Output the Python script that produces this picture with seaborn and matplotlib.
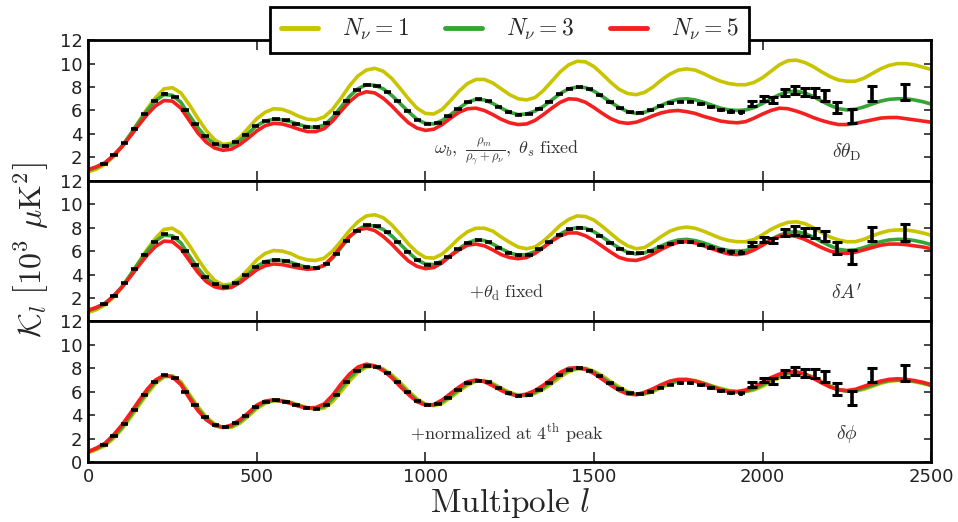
"""
CMB spectra K_l for N_nu = 1, 3, 5 with binned data, three stacked panels
"""

import numpy as np
import matplotlib
matplotlib.use('Agg')
import matplotlib.pyplot as plt
import seaborn as sns

# multipoles of the model curves
ell = np.arange(0, 2501, 25)

# N_nu = 3 (fiducial), same in all panels
cl_nu3 = [
    0.9, 1.15, 1.5, 2.15, 2.95, 3.95, 5.0, 6.0, 6.85, 7.35,
    7.3, 6.7, 5.6, 4.55, 3.7, 3.15, 2.95, 3.05, 3.45, 4.05,
    4.7, 5.1, 5.25, 5.2, 5.05, 4.8, 4.6, 4.55, 4.75, 5.4,
    6.3, 7.2, 7.85, 8.2, 8.15, 7.85, 7.3, 6.6, 5.9, 5.25,
    4.9, 4.85, 5.15, 5.65, 6.2, 6.7, 6.95, 6.9, 6.6, 6.2,
    5.85, 5.65, 5.7, 5.95, 6.35, 6.9, 7.45, 7.85, 8.0, 7.95,
    7.65, 7.2, 6.7, 6.25, 5.9, 5.75, 5.85, 6.1, 6.45, 6.75,
    6.95, 7.0, 6.9, 6.7, 6.45, 6.2, 6.05, 6.0, 6.05, 6.25,
    6.6, 7.0, 7.35, 7.6, 7.65, 7.5, 7.2, 6.8, 6.45, 6.15,
    6.05, 6.1, 6.3, 6.55, 6.8, 6.95, 7.0, 7.0, 6.9, 6.75,
    6.55,
]

# панель 1: omega_b, rho_m/(rho_g+rho_nu), theta_s fixed
top_nu1 = [
    0.75, 1.0, 1.4, 2.05, 2.9, 3.95, 5.05, 6.15, 7.1, 7.85,
    7.95, 7.5, 6.5, 5.35, 4.3, 3.5, 3.1, 3.2, 3.7, 4.5,
    5.3, 5.85, 6.15, 6.1, 5.85, 5.5, 5.25, 5.2, 5.45, 6.1,
    7.05, 8.1, 8.95, 9.45, 9.6, 9.35, 8.75, 7.9, 7.0, 6.2,
    5.75, 5.7, 6.1, 6.85, 7.65, 8.3, 8.65, 8.65, 8.35, 7.85,
    7.35, 7.0, 6.9, 7.1, 7.7, 8.5, 9.3, 9.9, 10.2, 10.15,
    9.75, 9.1, 8.4, 7.8, 7.45, 7.35, 7.55, 8.0, 8.6, 9.1,
    9.45, 9.55, 9.45, 9.15, 8.8, 8.5, 8.3, 8.2, 8.2, 8.4,
    8.8, 9.35, 9.9, 10.25, 10.3, 10.1, 9.75, 9.3, 8.9, 8.6,
    8.5, 8.5, 8.75, 9.15, 9.55, 9.85, 10.0, 10.0, 9.9, 9.7,
    9.5,
]
top_nu5 = [
    0.95, 1.2, 1.55, 2.15, 2.9, 3.8, 4.75, 5.65, 6.4, 6.85,
    6.8, 6.2, 5.15, 4.1, 3.3, 2.8, 2.6, 2.7, 3.1, 3.65,
    4.25, 4.7, 4.9, 4.85, 4.65, 4.4, 4.2, 4.2, 4.45, 5.1,
    5.95, 6.75, 7.35, 7.6, 7.5, 7.05, 6.4, 5.65, 4.95, 4.5,
    4.3, 4.4, 4.8, 5.35, 5.85, 6.15, 6.2, 6.0, 5.65, 5.25,
    4.95, 4.8, 4.85, 5.15, 5.65, 6.2, 6.7, 7.0, 6.95, 6.7,
    6.25, 5.75, 5.3, 5.0, 4.9, 5.0, 5.25, 5.55, 5.8, 5.95,
    6.0, 5.9, 5.75, 5.5, 5.3, 5.1, 5.0, 4.95, 5.05, 5.35,
    5.7, 6.0, 6.2, 6.15, 5.95, 5.7, 5.4, 5.15, 4.95, 4.8,
    4.8, 4.9, 5.05, 5.2, 5.35, 5.4, 5.4, 5.3, 5.2, 5.1,
    5.0,
]

# панель 2: + theta_d fixed
mid_nu1 = [
    0.75, 1.0, 1.4, 2.05, 2.9, 3.95, 5.05, 6.15, 7.1, 7.85,
    7.95, 7.5, 6.5, 5.35, 4.3, 3.5, 3.1, 3.2, 3.7, 4.45,
    5.25, 5.8, 6.05, 6.0, 5.8, 5.45, 5.25, 5.2, 5.4, 6.0,
    6.85, 7.75, 8.5, 9.0, 9.1, 8.85, 8.25, 7.45, 6.6, 5.9,
    5.45, 5.4, 5.75, 6.4, 7.1, 7.65, 7.95, 7.95, 7.7, 7.2,
    6.75, 6.35, 6.2, 6.35, 6.85, 7.5, 8.2, 8.7, 9.0, 8.95,
    8.65, 8.1, 7.5, 6.9, 6.45, 6.2, 6.3, 6.75, 7.25, 7.7,
    7.95, 8.05, 7.95, 7.7, 7.4, 7.1, 6.9, 6.8, 6.8, 7.0,
    7.4, 7.85, 8.2, 8.45, 8.5, 8.35, 8.0, 7.6, 7.2, 6.95,
    6.8, 6.8, 7.0, 7.3, 7.55, 7.75, 7.8, 7.8, 7.7, 7.55,
    7.35,
]
mid_nu5 = [
    0.95, 1.2, 1.55, 2.15, 2.9, 3.8, 4.75, 5.65, 6.4, 6.85,
    6.8, 6.2, 5.2, 4.2, 3.4, 2.95, 2.8, 2.9, 3.3, 3.85,
    4.4, 4.75, 4.9, 4.85, 4.7, 4.55, 4.45, 4.5, 4.8, 5.5,
    6.4, 7.25, 7.8, 7.95, 7.75, 7.25, 6.6, 5.85, 5.15, 4.7,
    4.5, 4.6, 5.0, 5.6, 6.1, 6.5, 6.6, 6.45, 6.1, 5.7,
    5.45, 5.35, 5.45, 5.8, 6.3, 6.85, 7.3, 7.55, 7.55, 7.3,
    6.9, 6.4, 5.9, 5.45, 5.25, 5.2, 5.4, 5.75, 6.15, 6.5,
    6.75, 6.8, 6.7, 6.45, 6.2, 5.95, 5.75, 5.7, 5.8, 6.1,
    6.5, 6.95, 7.25, 7.35, 7.25, 7.0, 6.65, 6.3, 6.0, 5.85,
    5.8, 5.9, 6.1, 6.3, 6.5, 6.6, 6.6, 6.55, 6.45, 6.35,
    6.2,
]

# панель 3: + normalized at 4th peak
bot_nu1 = [
    0.8, 1.05, 1.4, 2.0, 2.8, 3.75, 4.8, 5.8, 6.7, 7.25,
    7.35, 6.85, 5.8, 4.75, 3.85, 3.25, 2.95, 2.95, 3.3, 3.9,
    4.55, 5.0, 5.25, 5.25, 5.1, 4.85, 4.65, 4.5, 4.6, 5.15,
    6.0, 6.9, 7.65, 8.1, 8.2, 7.95, 7.45, 6.8, 6.05, 5.4,
    4.95, 4.8, 5.0, 5.5, 6.05, 6.55, 6.9, 6.95, 6.7, 6.3,
    5.95, 5.7, 5.65, 5.85, 6.2, 6.7, 7.25, 7.7, 7.95, 8.0,
    7.75, 7.35, 6.85, 6.4, 6.0, 5.8, 5.8, 6.0, 6.35, 6.65,
    6.9, 7.0, 6.95, 6.75, 6.5, 6.3, 6.1, 6.0, 6.0, 6.15,
    6.45, 6.85, 7.2, 7.5, 7.6, 7.5, 7.25, 6.9, 6.5, 6.2,
    6.05, 6.05, 6.2, 6.45, 6.7, 6.9, 6.95, 6.95, 6.85, 6.7,
    6.5,
]
bot_nu5 = [
    0.85, 1.2, 1.6, 2.3, 3.15, 4.15, 5.2, 6.2, 7.0, 7.4,
    7.25, 6.6, 5.45, 4.4, 3.6, 3.1, 2.95, 3.15, 3.6, 4.2,
    4.85, 5.2, 5.3, 5.2, 5.0, 4.75, 4.6, 4.65, 4.95, 5.7,
    6.65, 7.5, 8.1, 8.35, 8.2, 7.8, 7.2, 6.45, 5.75, 5.15,
    4.85, 4.9, 5.3, 5.85, 6.4, 6.85, 7.0, 6.85, 6.5, 6.1,
    5.8, 5.65, 5.8, 6.1, 6.55, 7.1, 7.65, 8.0, 8.05, 7.9,
    7.55, 7.05, 6.55, 6.1, 5.8, 5.75, 5.95, 6.25, 6.6, 6.9,
    7.05, 7.05, 6.9, 6.65, 6.4, 6.15, 6.0, 6.0, 6.15, 6.4,
    6.8, 7.2, 7.5, 7.7, 7.7, 7.5, 7.15, 6.75, 6.4, 6.15,
    6.1, 6.2, 6.45, 6.7, 6.9, 7.05, 7.1, 7.05, 6.95, 6.8,
    6.6,
]

# binned data, low l (short dashes)
bin_ell_low = np.arange(47, 1938, 30)
bin_cl_low = [
    1.45, 2.2, 3.25, 4.45, 5.7, 6.8, 7.45, 7.15,
    6.0, 4.85, 3.8, 3.15, 2.95, 3.3, 3.95, 4.65,
    5.1, 5.25, 5.15, 4.85, 4.6, 4.55, 4.9, 5.75,
    6.85, 7.75, 8.2, 8.1, 7.6, 6.8, 5.95, 5.2,
    4.85, 4.95, 5.5, 6.15, 6.7, 6.95, 6.8, 6.3,
    5.85, 5.65, 5.7, 6.15, 6.75, 7.4, 7.85, 8.0,
    7.8, 7.3, 6.7, 6.2, 5.85, 5.8, 6.0, 6.35,
    6.6, 6.75, 6.75, 6.55, 6.3, 6.05, 5.9, 5.85,
]
bin_err_low = [
    0.1, 0.1, 0.1, 0.1, 0.1, 0.1, 0.1, 0.1,
    0.1, 0.1, 0.1, 0.1, 0.1, 0.1, 0.1, 0.1,
    0.1, 0.1, 0.1, 0.1, 0.1, 0.1, 0.1, 0.1,
    0.1, 0.1, 0.1, 0.1, 0.1, 0.1, 0.1, 0.1,
    0.1, 0.1, 0.1, 0.1, 0.1, 0.1, 0.1, 0.1,
    0.12, 0.12, 0.12, 0.12, 0.12, 0.12, 0.12, 0.12,
    0.12, 0.12, 0.12, 0.12, 0.12, 0.12, 0.12, 0.12,
    0.15, 0.15, 0.15, 0.18, 0.18, 0.2, 0.2, 0.2,
]

# binned data, high l (error bars with caps)
bin_ell_high = [1968, 2003, 2032, 2067, 2097, 2126, 2156, 2186, 2220, 2265, 2324, 2423]
bin_cl_high = [6.6, 7.0, 6.9, 7.55, 7.75, 7.6, 7.55, 7.3, 6.25, 5.5, 7.45, 7.6]
bin_err_high = [0.2, 0.2, 0.25, 0.3, 0.35, 0.35, 0.4, 0.45, 0.5, 0.6, 0.6, 0.7]

panels = [
    (top_nu1, top_nu5,
     r'$\omega_b,\ \frac{\rho_m}{\rho_\gamma+\rho_\nu},\ \theta_s\ \mathrm{fixed}$',
     r'$\delta\theta_{\rm D}$'),
    (mid_nu1, mid_nu5, r'$+\theta_{\rm d}\ \mathrm{fixed}$', r"$\delta A'$"),
    (bot_nu1, bot_nu5, r'$+\mathrm{normalized\ at\ 4^{th}\ peak}$', r'$\delta\phi$'),
]

col_nu1 = '#c9c400'
col_nu3 = '#36a536'
col_nu5 = '#f42020'

sns.set_style("ticks")
plt.rcParams['font.family'] = ['DejaVu Sans']
plt.rcParams['mathtext.fontset'] = 'cm'

fig, axes = plt.subplots(3, 1, figsize=(9.58, 5.22), dpi=100, sharex=True)
fig.subplots_adjust(left=0.092, right=0.972, top=0.923, bottom=0.115, hspace=0)

for i, (ax, (y1, y5, note, tag)) in enumerate(zip(axes, panels)):
    sns.lineplot(x=ell, y=y1, color=col_nu1, lw=2.6, ax=ax, label=r'$N_\nu=1$')
    sns.lineplot(x=ell, y=cl_nu3, color=col_nu3, lw=2.6, ax=ax, label=r'$N_\nu=3$')
    sns.lineplot(x=ell, y=y5, color=col_nu5, lw=2.6, ax=ax, label=r'$N_\nu=5$')

    ax.errorbar(bin_ell_low, bin_cl_low, xerr=11, yerr=bin_err_low, fmt='none',
                ecolor='black', elinewidth=2.6, capsize=0, zorder=5)
    ax.errorbar(bin_ell_high, bin_cl_high, yerr=bin_err_high, fmt='none',
                ecolor='black', elinewidth=2.6, capsize=3.5, capthick=2.2, zorder=5)

    ax.text(1240, 2.4, note, ha='center', va='center', fontsize=13, color='#333333')
    ax.text(2250, 2.4, tag, ha='center', va='center', fontsize=14, color='#333333')

    ax.set_xlim(0, 2500)
    ax.set_ylim(0, 12)
    ax.set_xticks([0, 500, 1000, 1500, 2000, 2500])
    if i < 2:
        ax.set_yticks([2, 4, 6, 8, 10, 12])
    else:
        ax.set_yticks([0, 2, 4, 6, 8, 10, 12])
    ax.tick_params(axis='both', direction='in', top=True, right=True,
                   length=7, width=1.2, labelsize=13, labelcolor='#222222', pad=4)
    ax.tick_params(axis='y', length=5)
    for sp in ax.spines.values():
        sp.set_linewidth(2)
        sp.set_color('black')
    ax.set_xlabel('')
    ax.set_ylabel('')
    handles, labels = ax.get_legend_handles_labels()
    ax.get_legend().remove()

leg = fig.legend(handles, labels, loc='upper center', bbox_to_anchor=(0.532, 0.987),
                 ncol=3, frameon=True, fancybox=False, edgecolor='black', fontsize=17,
                 handlelength=1.6, handletextpad=1.0, columnspacing=1.5, borderpad=0.45,
                 borderaxespad=0)
leg.get_frame().set_linewidth(2)
leg.get_frame().set_alpha(1)
for line in leg.get_lines():
    line.set_linewidth(3.5)

fig.text(0.532, 0.036, r'$\mathrm{Multipole}\ l$', ha='center', va='center', fontsize=24)
fig.text(0.032, 0.52, r'$\mathcal{K}_l\ \left[10^3\ \mu\mathrm{K}^2\right]$', ha='center',
         va='center', rotation=90, fontsize=23)

plt.savefig('out.png', dpi=100)
